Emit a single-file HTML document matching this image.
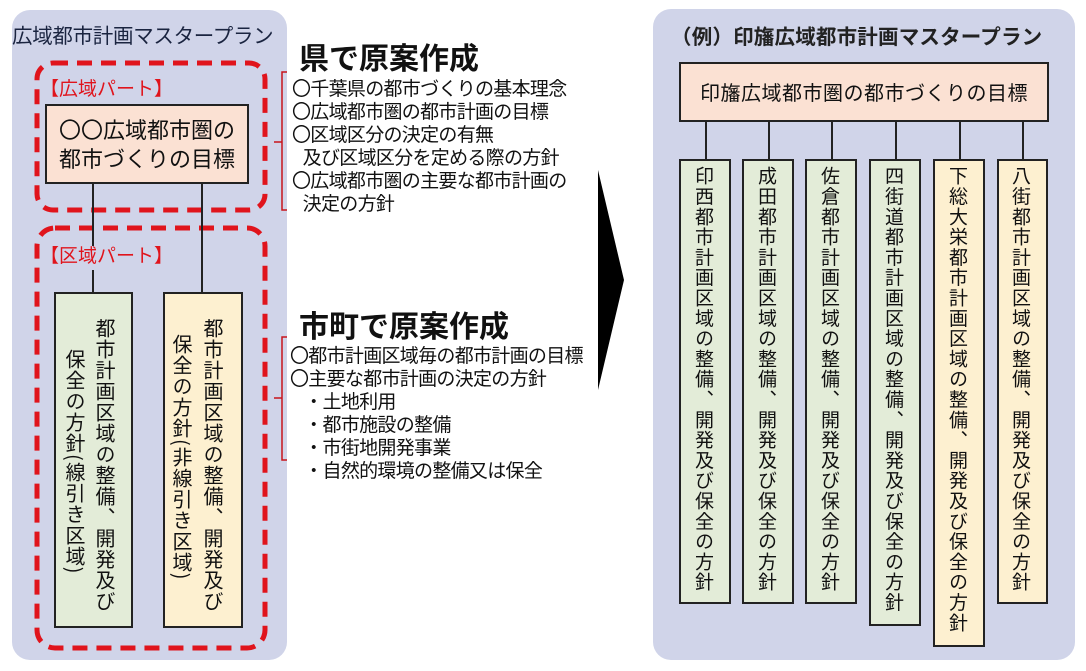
<!DOCTYPE html>
<html><head><meta charset="utf-8"><style>
body{margin:0;width:1086px;height:671px;background:#fff;position:relative;overflow:hidden;font-family:"Noto Sans CJK JP","Liberation Sans",sans-serif;color:#111}
.a{position:absolute}
.panel{background:#d0d4e9;border-radius:18px}
.box{border:2px solid #222;box-sizing:border-box}
.g{background:#e3ecd8}.y{background:#fdf0d0}.p{background:#fbe1d3}
.v{writing-mode:vertical-rl;font-size:19px;letter-spacing:1.3px;line-height:31px;white-space:nowrap}
.ln{position:absolute;width:2px;background:#222}
.li{font-size:19px;line-height:23px;white-space:nowrap;letter-spacing:-0.7px}
</style></head><body>
<div class="a panel" style="left:12px;top:10px;width:275px;height:650px"></div>
<div class="a" style="left:12px;top:19px;font-size:20.5px;letter-spacing:-0.3px;color:#1a2440">広域都市計画マスタープラン</div>
<svg class="a" style="left:0;top:0" width="300" height="671">
<rect x="37" y="63" width="228" height="147" rx="16" fill="none" stroke="#e0141c" stroke-width="5" stroke-dasharray="15,9"/>
<rect x="37" y="228" width="228" height="420" rx="18" fill="none" stroke="#e0141c" stroke-width="5" stroke-dasharray="15,9"/>
</svg>
<div class="a" style="left:40px;top:74px;font-size:19px;color:#e0141c">【広域パート】</div>
<div class="a" style="left:40px;top:241px;font-size:19px;color:#e0141c">【区域パート】</div>
<div class="ln" style="left:92px;top:183px;height:63px"></div>
<div class="ln" style="left:92px;top:270px;height:22px"></div>
<div class="ln" style="left:201px;top:183px;height:109px"></div>
<div class="a box p" style="left:45px;top:104px;width:204px;height:80px;font-size:22px;line-height:29px;text-align:center;padding-top:9px">〇〇広域都市圏の<br>都市づくりの目標</div>
<div class="a box g" style="left:54px;top:292px;width:79px;height:336px"></div>
<div class="a box y" style="left:163px;top:292px;width:80px;height:336px"></div>
<div class="a v" style="left:90px;top:318px;font-size:20px;letter-spacing:1px">都市計画区域の整備、開発及び</div>
<div class="a v" style="left:60px;top:349px;font-size:20px;letter-spacing:1px">保全の方針(線引き区域)</div>
<div class="a v" style="left:198px;top:318px;font-size:20px;letter-spacing:1px">都市計画区域の整備、開発及び</div>
<div class="a v" style="left:167px;top:334px;font-size:20px;letter-spacing:1px">保全の方針(非線引き区域)</div>

<div class="a" style="left:299px;top:34px;font-size:30px;font-weight:bold">県で原案作成</div>
<div class="a" style="left:299px;top:302px;font-size:30px;font-weight:bold">市町で原案作成</div>
<svg class="a" style="left:0;top:0" width="660" height="671">
<path d="M287 72 H282 V210 H287 M282 142 H274" fill="none" stroke="#c8141c" stroke-width="1.5"/>
<path d="M287 337 H282 V460 H287 M282 398 H274" fill="none" stroke="#c8141c" stroke-width="1.5"/>
<polygon points="598,170 624,280 598,390" fill="#000"/>
</svg>
<div class="a li" style="left:292px;top:76px">〇千葉県の都市づくりの基本理念<br>〇広域都市圏の都市計画の目標<br>〇区域区分の決定の有無<br>&nbsp;&nbsp;&nbsp;及び区域区分を定める際の方針<br>〇広域都市圏の主要な都市計画の<br>&nbsp;&nbsp;&nbsp;決定の方針</div>
<div class="a li" style="left:290px;top:343px">〇都市計画区域毎の都市計画の目標<br>〇主要な都市計画の決定の方針<br>&nbsp;&nbsp;&nbsp;&nbsp;・土地利用<br>&nbsp;&nbsp;&nbsp;&nbsp;・都市施設の整備<br>&nbsp;&nbsp;&nbsp;&nbsp;・市街地開発事業<br>&nbsp;&nbsp;&nbsp;&nbsp;・自然的環境の整備又は保全</div>

<div class="a panel" style="left:653px;top:9px;width:422px;height:651px"></div>
<div class="a" style="left:671px;top:20px;font-size:20.5px;font-weight:bold;color:#222;letter-spacing:0.2px">（例）印旛広域都市計画マスタープラン</div>
<div class="a box p" style="left:679px;top:62px;width:370px;height:60px;font-size:20px;text-align:center;line-height:56px;letter-spacing:0.5px">印旛広域都市圏の都市づくりの目標</div>
<div class="ln" style="left:705px;top:122px;height:37px"></div>
<div class="ln" style="left:768px;top:122px;height:37px"></div>
<div class="ln" style="left:831px;top:122px;height:37px"></div>
<div class="ln" style="left:895px;top:122px;height:37px"></div>
<div class="ln" style="left:959px;top:122px;height:37px"></div>
<div class="ln" style="left:1022px;top:122px;height:37px"></div>
<div class="a box g" style="left:679px;top:159px;width:52px;height:445px"></div>
<div class="a box g" style="left:742px;top:159px;width:52px;height:445px"></div>
<div class="a box g" style="left:805px;top:159px;width:52px;height:445px"></div>
<div class="a box g" style="left:869px;top:159px;width:52px;height:467px"></div>
<div class="a box y" style="left:933px;top:159px;width:52px;height:488px"></div>
<div class="a box y" style="left:997px;top:159px;width:51px;height:445px"></div>
<div class="a v" style="left:689px;top:166px">印西都市計画区域の整備、開発及び保全の方針</div>
<div class="a v" style="left:752px;top:166px">成田都市計画区域の整備、開発及び保全の方針</div>
<div class="a v" style="left:815px;top:166px">佐倉都市計画区域の整備、開発及び保全の方針</div>
<div class="a v" style="left:879px;top:166px">四街道都市計画区域の整備、開発及び保全の方針</div>
<div class="a v" style="left:943px;top:166px">下総大栄都市計画区域の整備、開発及び保全の方針</div>
<div class="a v" style="left:1006px;top:166px">八街都市計画区域の整備、開発及び保全の方針</div>
</body></html>
